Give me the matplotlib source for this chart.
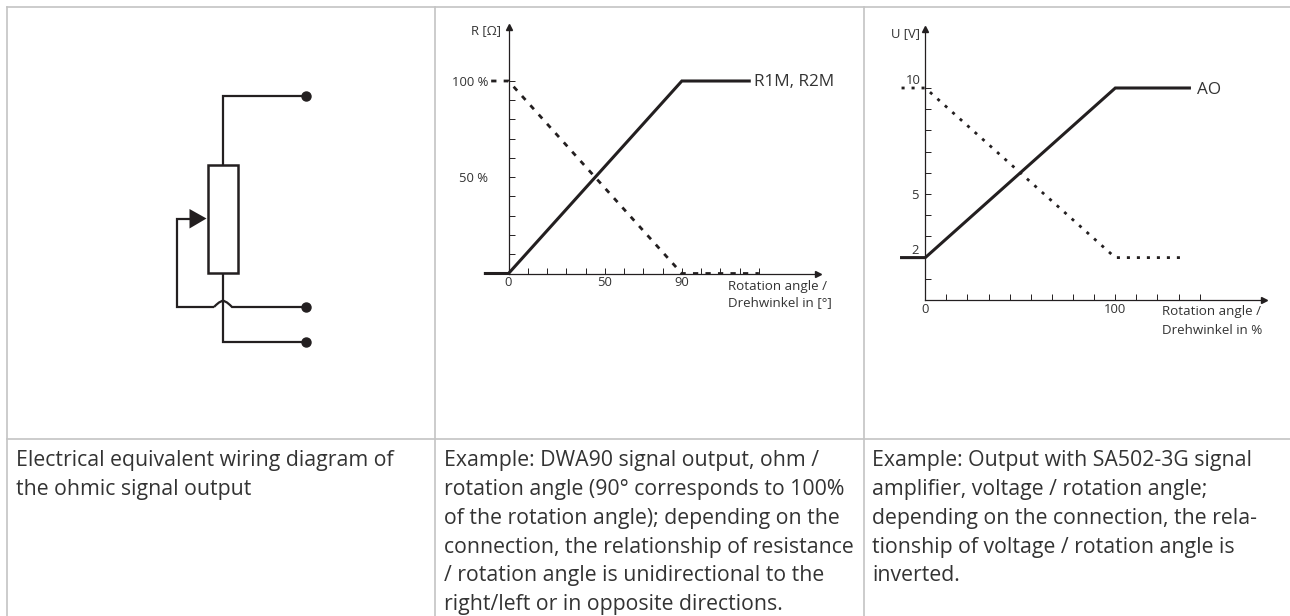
import matplotlib
matplotlib.use('Agg')
import matplotlib.pyplot as plt
from matplotlib.patches import Rectangle

W, H = 1290, 616
plt.rcParams['font.family'] = ['Open Sans', 'DejaVu Sans']
GREY = '#c4c4c4'
TXT = '#333333'
INK = '#231f20'

# left chart
r_x_ticks = [0, 10, 20, 30, 40, 50, 60, 70, 80, 90, 100, 110, 120, 130]
r_x_labels = ['0', '', '', '', '', '50', '', '', '', '90', '', '', '', '']
r_y_ticks = [10, 20, 30, 40, 50, 60, 70, 80, 90, 100]
r_y_labels = ['', '', '', '', '50 %', '', '', '', '', '100 %']
r_solid_x = [-12, 0, 90, 125]
r_solid_y = [0, 0, 100, 100]
r_dash_x = [-9, 0, 90, 130]
r_dash_y = [100, 100, 0, 0]

# right chart
u_x_ticks = [0, 11.1, 22.2, 33.3, 44.4, 55.6, 66.7, 77.8, 88.9, 100, 111.1, 122.2, 133.3, 144.4]
u_x_labels = ['0', '', '', '', '', '', '', '', '', '100', '', '', '', '']
u_y_ticks = [1, 3, 4, 5, 6, 7, 8, 9, 10]
u_y_labels = ['', '', '', '5', '', '', '', '', '']
u_solid_x = [-12.5, 0, 100, 139]
u_solid_y = [2, 2, 10, 10]
u_dot_x = [-12.5, 0, 100, 137]
u_dot_y = [10, 10, 2, 2]

captions = [
    'Electrical equivalent wiring diagram of\nthe ohmic signal output',
    'Example: DWA90 signal output, ohm /\nrotation angle (90° corresponds to 100%\n'
    'of the rotation angle); depending on the\nconnection, the relationship of resistance\n'
    '/ rotation angle is unidirectional to the\nright/left or in opposite directions.',
    'Example: Output with SA502-3G signal\namplifier, voltage / rotation angle;\n'
    'depending on the connection, the rela-\ntionship of voltage / rotation angle is\ninverted.',
]
caption_x = [16, 444, 872]

fig = plt.figure(figsize=(W / 100, H / 100), dpi=100)

# page layer in pixel coordinates
page = fig.add_axes([0, 0, 1, 1])
page.set_xlim(0, W)
page.set_ylim(H, 0)
page.axis('off')

page.plot([7, W], [7, 7], color=GREY, lw=1.2)
page.plot([7, W], [439, 439], color=GREY, lw=1.2)
for x in (7, 435, 864):
    page.plot([x, x], [7, H], color=GREY, lw=1.2)

for x, s in zip(caption_x, captions):
    page.text(x, 450, s, fontsize=15.3, color=TXT, va='top', ha='left', linespacing=1.49)

# wiring diagram
wire = dict(color=INK, lw=1.6, solid_capstyle='butt', solid_joinstyle='miter')
page.add_patch(Rectangle((208, 165), 30, 108, fill=False, ec=INK, lw=1.8))
page.plot([306, 223, 223], [96, 96, 165], **wire)
page.plot([223, 223, 306], [273, 342, 342], **wire)
page.plot([190, 177, 177, 214], [218.5, 218.5, 307, 307], **wire)
page.plot([214, 216, 219, 223, 227, 230, 232, 306],
          [307, 305, 302.5, 300.5, 302.5, 305, 307, 307], **wire)
page.plot([306, 306, 306], [96, 307, 342], 'o', color=INK, ms=6.5, ls='none')
page.fill([189.5, 189.5, 206.5], [209, 228.5, 218.5], color=INK, lw=0)


def chart(x0, y0, x_px, y_px, xlim, ylim):
    # x0, y0: pixel position of the origin; x_px, y_px: pixels per data unit
    left = x0 + xlim[0] * x_px
    right = x0 + xlim[1] * x_px
    top = y0 - ylim[1] * y_px
    bottom = y0 - ylim[0] * y_px
    ax = fig.add_axes([left / W, 1 - bottom / H, (right - left) / W, (bottom - top) / H])
    ax.patch.set_alpha(0)
    ax.spines['top'].set_visible(False)
    ax.spines['right'].set_visible(False)
    ax.spines['left'].set_position(('data', 0))
    ax.spines['bottom'].set_position(('data', 0))
    ax.spines['left'].set_bounds(0, ylim[1])
    ax.spines['bottom'].set_bounds(0, xlim[1])
    for sp in ('left', 'bottom'):
        ax.spines[sp].set_linewidth(0.9)
        ax.spines[sp].set_color(INK)
    ax.tick_params(direction='in', length=4.4, width=0.7, color=INK, labelcolor=TXT,
                   labelsize=9.4, pad=2)
    ax.plot(1, 0, '>', color=INK, ms=4.5, transform=ax.get_yaxis_transform(), clip_on=False)
    ax.plot(0, 1, '^', color=INK, ms=4.5, transform=ax.get_xaxis_transform(), clip_on=False)
    ax.lims = (xlim, ylim)
    return ax


ax1 = chart(508.5, 273.5, 1.926, 1.925, (-12.2, 160.7), (-2, 128))
ax1.set_xticks(r_x_ticks, r_x_labels)
ax1.set_yticks(r_y_ticks, r_y_labels)
ax1.tick_params(axis='y', pad=14.5)
ax1.plot(r_solid_x, r_solid_y, color=INK, lw=2.2, solid_joinstyle='miter', clip_on=False)
ax1.plot(r_dash_x, r_dash_y, color=INK, lw=2.0, ls=(0, (1.9, 2.6)), clip_on=False)
ax1.set_xlim(ax1.lims[0])
ax1.set_ylim(ax1.lims[1])
page.text(501, 30.5, 'R [Ω]', ha='right', va='center', fontsize=9.4, color=TXT)
page.text(754, 82, 'R1M, R2M', ha='left', va='center', fontsize=12.3, color=TXT)
page.text(728, 286.5, 'Rotation angle /', ha='left', va='center', fontsize=9.6, color=TXT)
page.text(728, 303, 'Drehwinkel in [°]', ha='left', va='center', fontsize=9.6, color=TXT)

ax2 = chart(925.3, 300, 1.9, 21.2, (-12.5, 178.4), (0, 12.77))
ax2.set_xticks(u_x_ticks, u_x_labels)
ax2.set_yticks(u_y_ticks, u_y_labels)
ax2.tick_params(axis='y', pad=4.5)
ax2.plot(u_solid_x, u_solid_y, color=INK, lw=2.2, solid_joinstyle='miter', clip_on=False)
ax2.plot(u_dot_x, u_dot_y, color=INK, lw=2.0, ls=(0, (1.1, 2.5)), clip_on=False)
ax2.set_xlim(ax2.lims[0])
ax2.set_ylim(ax2.lims[1])
page.text(920.5, 81, '10', ha='right', va='center', fontsize=9.4, color=TXT)
page.text(919, 251, '2', ha='right', va='center', fontsize=9.4, color=TXT)
page.text(920, 34, 'U [V]', ha='right', va='center', fontsize=9.4, color=TXT)
page.text(1197, 89.5, 'AO', ha='left', va='center', fontsize=12.3, color=TXT)
page.text(1162, 311, 'Rotation angle /', ha='left', va='center', fontsize=9.6, color=TXT)
page.text(1162, 330, 'Drehwinkel in %', ha='left', va='center', fontsize=9.6, color=TXT)

fig.savefig('out.png', dpi=100)
